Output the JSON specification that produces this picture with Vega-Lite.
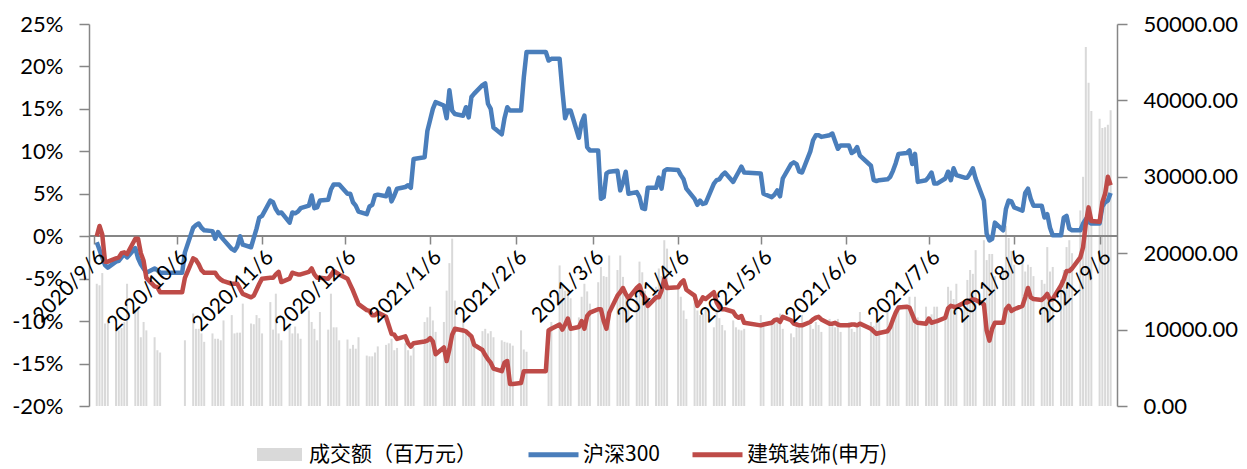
{
"$schema":"https://vega.github.io/schema/vega-lite/v6.json",
"width":1028,"height":382,
"autosize":{"type":"none"},
"padding":{"left":89,"top":24,"right":130,"bottom":63},
"background":"white",
"config":{"view":{"stroke":null},"font":"Lato"},
"data":{"values":[
{"d":"2020-09-07","v":16000,"h":-0.7,"j":0.0},
{"d":"2020-09-08","v":15800,"h":-1.6,"j":1.2},
{"d":"2020-09-09","v":17400,"h":-2.5,"j":0.2},
{"d":"2020-09-10","v":10800,"h":-3.4,"j":-3.0},
{"d":"2020-09-11","v":11200,"h":-3.7,"j":-3.0},
{"d":"2020-09-14","v":9900,"h":-3.0,"j":-2.6},
{"d":"2020-09-15","v":9900,"h":-2.9,"j":-2.5},
{"d":"2020-09-16","v":10200,"h":-2.5,"j":-2.0},
{"d":"2020-09-17","v":11000,"h":-2.1,"j":-1.9},
{"d":"2020-09-18","v":16000,"h":-2.5,"j":-2.1},
{"d":"2020-09-21","v":12500,"h":-1.4,"j":-0.3},
{"d":"2020-09-22","v":12900,"h":-2.6,"j":-0.3},
{"d":"2020-09-23","v":9000,"h":-3.3,"j":-2.0},
{"d":"2020-09-24","v":11000,"h":-3.8,"j":-2.9},
{"d":"2020-09-25","v":9900,"h":-4.3,"j":-4.9},
{"d":"2020-09-28","v":9000,"h":-3.8,"j":-5.9},
{"d":"2020-09-29","v":7300,"h":-4.0,"j":-6.0},
{"d":"2020-09-30","v":7000,"h":-4.3,"j":-6.6},
{"d":"2020-10-08","v":null,"h":-4.3,"j":-6.6},
{"d":"2020-10-09","v":8600,"h":-1.9,"j":-4.9},
{"d":"2020-10-12","v":12100,"h":1.0,"j":-2.6},
{"d":"2020-10-13","v":10100,"h":1.3,"j":-2.8},
{"d":"2020-10-14","v":10100,"h":1.5,"j":-3.3},
{"d":"2020-10-15","v":9500,"h":1.0,"j":-4.0},
{"d":"2020-10-16","v":8400,"h":0.7,"j":-4.3},
{"d":"2020-10-19","v":9500,"h":0.6,"j":-4.3},
{"d":"2020-10-20","v":8800,"h":-0.3,"j":-4.3},
{"d":"2020-10-21","v":8800,"h":0.5,"j":-4.8},
{"d":"2020-10-22","v":8600,"h":0.0,"j":-5.1},
{"d":"2020-10-23","v":11200,"h":-0.4,"j":-5.3},
{"d":"2020-10-26","v":11900,"h":-1.5,"j":-5.6},
{"d":"2020-10-27","v":9500,"h":-1.7,"j":-5.6},
{"d":"2020-10-28","v":9600,"h":-1.2,"j":-5.6},
{"d":"2020-10-29","v":9600,"h":0.0,"j":-6.2},
{"d":"2020-10-30","v":13400,"h":-1.0,"j":-6.8},
{"d":"2020-11-02","v":10800,"h":-1.3,"j":-7.2},
{"d":"2020-11-03","v":10700,"h":-0.2,"j":-7.0},
{"d":"2020-11-04","v":11900,"h":0.9,"j":-6.3},
{"d":"2020-11-05","v":11500,"h":2.2,"j":-5.6},
{"d":"2020-11-06","v":9500,"h":2.4,"j":-5.0},
{"d":"2020-11-09","v":13600,"h":4.2,"j":-4.9},
{"d":"2020-11-10","v":10000,"h":4.0,"j":-4.9},
{"d":"2020-11-11","v":14700,"h":3.2,"j":-4.5},
{"d":"2020-11-12","v":9500,"h":2.7,"j":-4.2},
{"d":"2020-11-13","v":8600,"h":2.8,"j":-5.4},
{"d":"2020-11-16","v":10800,"h":1.6,"j":-5.0},
{"d":"2020-11-17","v":9500,"h":2.8,"j":-4.3},
{"d":"2020-11-18","v":10400,"h":2.7,"j":-4.4},
{"d":"2020-11-19","v":9500,"h":2.9,"j":-4.5},
{"d":"2020-11-20","v":8800,"h":3.3,"j":-4.5},
{"d":"2020-11-23","v":12500,"h":3.6,"j":-4.2},
{"d":"2020-11-24","v":11000,"h":4.8,"j":-3.8},
{"d":"2020-11-25","v":10100,"h":3.3,"j":-4.5},
{"d":"2020-11-26","v":8600,"h":3.4,"j":-4.9},
{"d":"2020-11-27","v":12300,"h":4.2,"j":-4.9},
{"d":"2020-11-30","v":10000,"h":4.3,"j":-5.0},
{"d":"2020-12-01","v":14700,"h":5.5,"j":-4.6},
{"d":"2020-12-02","v":10300,"h":6.1,"j":-4.1},
{"d":"2020-12-03","v":10300,"h":6.1,"j":-4.3},
{"d":"2020-12-04","v":8600,"h":6.1,"j":-4.5},
{"d":"2020-12-07","v":8700,"h":5.0,"j":-5.0},
{"d":"2020-12-08","v":7500,"h":5.0,"j":-5.7},
{"d":"2020-12-09","v":8000,"h":4.0,"j":-6.4},
{"d":"2020-12-10","v":7500,"h":3.6,"j":-7.2},
{"d":"2020-12-11","v":9000,"h":2.9,"j":-8.0},
{"d":"2020-12-14","v":6600,"h":2.6,"j":-8.7},
{"d":"2020-12-15","v":6500,"h":3.5,"j":-8.8},
{"d":"2020-12-16","v":6500,"h":3.7,"j":-9.3},
{"d":"2020-12-17","v":7000,"h":4.8,"j":-9.3},
{"d":"2020-12-18","v":7800,"h":4.9,"j":-9.0},
{"d":"2020-12-21","v":8000,"h":4.7,"j":-9.5},
{"d":"2020-12-22","v":8200,"h":5.6,"j":-10.5},
{"d":"2020-12-23","v":8800,"h":4.1,"j":-11.5},
{"d":"2020-12-24","v":7300,"h":4.8,"j":-11.6},
{"d":"2020-12-25","v":7600,"h":5.6,"j":-12.1},
{"d":"2020-12-28","v":8200,"h":5.8,"j":-11.8},
{"d":"2020-12-29","v":7300,"h":6.0,"j":-12.6},
{"d":"2020-12-30","v":6600,"h":5.7,"j":-13.0},
{"d":"2020-12-31","v":7700,"h":9.1,"j":-12.6},
{"d":"2021-01-04","v":11000,"h":9.3,"j":-12.4},
{"d":"2021-01-05","v":11600,"h":12.4,"j":-12.3},
{"d":"2021-01-06","v":13000,"h":13.7,"j":-12.0},
{"d":"2021-01-07","v":11200,"h":15.0,"j":-12.4},
{"d":"2021-01-08","v":9700,"h":15.8,"j":-13.9},
{"d":"2021-01-11","v":11000,"h":15.4,"j":-13.1},
{"d":"2021-01-12","v":15100,"h":13.9,"j":-14.7},
{"d":"2021-01-13","v":18700,"h":17.2,"j":-13.3},
{"d":"2021-01-14","v":21900,"h":14.8,"j":-11.6},
{"d":"2021-01-15","v":13800,"h":14.4,"j":-10.9},
{"d":"2021-01-18","v":11600,"h":14.2,"j":-11.1},
{"d":"2021-01-19","v":9600,"h":15.2,"j":-11.2},
{"d":"2021-01-20","v":9700,"h":14.0,"j":-11.5},
{"d":"2021-01-21","v":9000,"h":16.4,"j":-11.8},
{"d":"2021-01-22","v":8800,"h":16.8,"j":-12.8},
{"d":"2021-01-25","v":9800,"h":17.8,"j":-13.4},
{"d":"2021-01-26","v":10100,"h":18.0,"j":-14.0},
{"d":"2021-01-27","v":9500,"h":15.6,"j":-14.5},
{"d":"2021-01-28","v":9800,"h":15.0,"j":-14.9},
{"d":"2021-01-29","v":9000,"h":12.8,"j":-15.6},
{"d":"2021-02-01","v":8600,"h":12.0,"j":-15.9},
{"d":"2021-02-02","v":8400,"h":13.9,"j":-14.9},
{"d":"2021-02-03","v":8300,"h":15.2,"j":-14.7},
{"d":"2021-02-04","v":8200,"h":14.8,"j":-17.4},
{"d":"2021-02-05","v":7900,"h":14.8,"j":-17.4},
{"d":"2021-02-08","v":9900,"h":14.8,"j":-17.3},
{"d":"2021-02-09","v":7400,"h":18.7,"j":-15.9},
{"d":"2021-02-10","v":7100,"h":21.7,"j":-15.9},
{"d":"2021-02-17","v":null,"h":21.7,"j":-15.9},
{"d":"2021-02-18","v":7700,"h":20.7,"j":-11.1},
{"d":"2021-02-19","v":11000,"h":20.9,"j":-10.9},
{"d":"2021-02-22","v":18400,"h":20.9,"j":-10.4},
{"d":"2021-02-23","v":16000,"h":17.2,"j":-11.0},
{"d":"2021-02-24","v":15100,"h":13.9,"j":-10.4},
{"d":"2021-02-25","v":15000,"h":14.8,"j":-9.7},
{"d":"2021-02-26","v":14100,"h":14.8,"j":-10.9},
{"d":"2021-03-01","v":11600,"h":11.6,"j":-10.7},
{"d":"2021-03-02","v":14300,"h":13.4,"j":-10.0},
{"d":"2021-03-03","v":16000,"h":14.2,"j":-10.9},
{"d":"2021-03-04","v":15000,"h":10.5,"j":-9.4},
{"d":"2021-03-05","v":13400,"h":10.1,"j":-9.0},
{"d":"2021-03-08","v":16200,"h":10.1,"j":-8.6},
{"d":"2021-03-09","v":18200,"h":4.4,"j":-8.6},
{"d":"2021-03-10","v":17000,"h":4.6,"j":-10.0},
{"d":"2021-03-11","v":16900,"h":7.4,"j":-10.9},
{"d":"2021-03-12","v":19700,"h":7.6,"j":-9.0},
{"d":"2021-03-15","v":17800,"h":7.7,"j":-7.0},
{"d":"2021-03-16","v":19700,"h":5.4,"j":-6.6},
{"d":"2021-03-17","v":16900,"h":6.3,"j":-6.1},
{"d":"2021-03-18","v":14500,"h":7.6,"j":-6.8},
{"d":"2021-03-19","v":13900,"h":5.0,"j":-7.3},
{"d":"2021-03-22","v":15400,"h":5.2,"j":-6.1},
{"d":"2021-03-23","v":18900,"h":4.6,"j":-5.8},
{"d":"2021-03-24","v":17500,"h":3.3,"j":-6.8},
{"d":"2021-03-25","v":15100,"h":3.2,"j":-7.2},
{"d":"2021-03-26","v":14300,"h":5.7,"j":-8.2},
{"d":"2021-03-29","v":15600,"h":5.7,"j":-7.2},
{"d":"2021-03-30","v":18000,"h":6.9,"j":-7.2},
{"d":"2021-03-31","v":17000,"h":5.6,"j":-6.4},
{"d":"2021-04-01","v":21700,"h":7.7,"j":-5.0},
{"d":"2021-04-02","v":20600,"h":7.9,"j":-6.1},
{"d":"2021-04-06","v":15600,"h":7.8,"j":-6.0},
{"d":"2021-04-07","v":14300,"h":7.2,"j":-5.5},
{"d":"2021-04-08","v":12500,"h":6.7,"j":-5.2},
{"d":"2021-04-09","v":11400,"h":5.6,"j":-6.3},
{"d":"2021-04-12","v":13600,"h":4.4,"j":-7.0},
{"d":"2021-04-13","v":12500,"h":3.7,"j":-8.2},
{"d":"2021-04-14","v":11900,"h":4.2,"j":-7.8},
{"d":"2021-04-15","v":12000,"h":3.8,"j":-7.2},
{"d":"2021-04-16","v":12700,"h":3.9,"j":-7.4},
{"d":"2021-04-19","v":10300,"h":6.2,"j":-6.6},
{"d":"2021-04-20","v":12700,"h":6.6,"j":-7.8},
{"d":"2021-04-21","v":11500,"h":6.7,"j":-8.4},
{"d":"2021-04-22","v":10600,"h":7.2,"j":-8.6},
{"d":"2021-04-23","v":9900,"h":7.5,"j":-8.6},
{"d":"2021-04-26","v":11200,"h":6.4,"j":-8.9},
{"d":"2021-04-27","v":10300,"h":7.0,"j":-9.4},
{"d":"2021-04-28","v":10000,"h":7.6,"j":-9.6},
{"d":"2021-04-29","v":9900,"h":8.2,"j":-9.4},
{"d":"2021-04-30","v":10100,"h":7.5,"j":-10.2},
{"d":"2021-05-06","v":11900,"h":7.4,"j":-10.5},
{"d":"2021-05-07","v":11000,"h":5.0,"j":-10.4},
{"d":"2021-05-10","v":11000,"h":4.6,"j":-10.2},
{"d":"2021-05-11","v":11200,"h":4.9,"j":-9.9},
{"d":"2021-05-12","v":11400,"h":5.4,"j":-9.8},
{"d":"2021-05-13","v":12100,"h":4.7,"j":-10.1},
{"d":"2021-05-14","v":10100,"h":6.8,"j":-9.5},
{"d":"2021-05-17","v":9500,"h":8.5,"j":-9.9},
{"d":"2021-05-18","v":9000,"h":8.7,"j":-10.3},
{"d":"2021-05-19","v":10300,"h":8.5,"j":-10.4},
{"d":"2021-05-20","v":10600,"h":7.6,"j":-10.5},
{"d":"2021-05-21","v":11900,"h":7.5,"j":-10.5},
{"d":"2021-05-24","v":10600,"h":10.0,"j":-10.1},
{"d":"2021-05-25","v":10100,"h":11.3,"j":-9.8},
{"d":"2021-05-26","v":11000,"h":11.9,"j":-9.6},
{"d":"2021-05-27","v":10600,"h":11.9,"j":-9.5},
{"d":"2021-05-28","v":9700,"h":11.7,"j":-9.8},
{"d":"2021-05-31","v":11400,"h":11.9,"j":-10.3},
{"d":"2021-06-01","v":10600,"h":12.1,"j":-10.3},
{"d":"2021-06-02","v":10300,"h":11.2,"j":-10.2},
{"d":"2021-06-03","v":11400,"h":10.3,"j":-10.4},
{"d":"2021-06-04","v":9700,"h":10.7,"j":-10.5},
{"d":"2021-06-07","v":11000,"h":10.7,"j":-10.5},
{"d":"2021-06-08","v":10100,"h":9.8,"j":-10.4},
{"d":"2021-06-09","v":9700,"h":10.0,"j":-10.4},
{"d":"2021-06-10","v":10300,"h":10.5,"j":-10.5},
{"d":"2021-06-11","v":12300,"h":9.5,"j":-10.3},
{"d":"2021-06-15","v":11000,"h":8.3,"j":-10.9},
{"d":"2021-06-16","v":10500,"h":6.6,"j":-11.2},
{"d":"2021-06-17","v":11000,"h":6.5,"j":-11.5},
{"d":"2021-06-18","v":11200,"h":6.6,"j":-11.4},
{"d":"2021-06-21","v":12700,"h":6.7,"j":-11.2},
{"d":"2021-06-22","v":10800,"h":7.0,"j":-10.7},
{"d":"2021-06-23","v":10800,"h":7.7,"j":-9.8},
{"d":"2021-06-24","v":12500,"h":8.6,"j":-9.0},
{"d":"2021-06-25","v":13200,"h":9.7,"j":-8.4},
{"d":"2021-06-28","v":13000,"h":9.8,"j":-8.3},
{"d":"2021-06-29","v":14300,"h":10.1,"j":-8.4},
{"d":"2021-06-30","v":11900,"h":8.5,"j":-9.2},
{"d":"2021-07-01","v":14300,"h":9.7,"j":-10.0},
{"d":"2021-07-02","v":11600,"h":6.4,"j":-10.2},
{"d":"2021-07-05","v":13000,"h":6.6,"j":-10.3},
{"d":"2021-07-06","v":11400,"h":7.0,"j":-9.7},
{"d":"2021-07-07","v":12000,"h":7.5,"j":-10.2},
{"d":"2021-07-08","v":13000,"h":6.2,"j":-10.1},
{"d":"2021-07-09","v":13000,"h":6.2,"j":-10.0},
{"d":"2021-07-12","v":11600,"h":6.8,"j":-9.6},
{"d":"2021-07-13","v":15600,"h":7.6,"j":-8.5},
{"d":"2021-07-14","v":15100,"h":6.6,"j":-8.2},
{"d":"2021-07-15","v":14000,"h":8.0,"j":-8.3},
{"d":"2021-07-16","v":16000,"h":7.2,"j":-8.3},
{"d":"2021-07-19","v":13000,"h":6.9,"j":-7.8},
{"d":"2021-07-20","v":16500,"h":6.9,"j":-7.8},
{"d":"2021-07-21","v":17800,"h":7.4,"j":-7.6},
{"d":"2021-07-22","v":17300,"h":8.0,"j":-7.4},
{"d":"2021-07-23","v":20400,"h":6.8,"j":-7.5},
{"d":"2021-07-26","v":21700,"h":4.2,"j":-8.0},
{"d":"2021-07-27","v":19100,"h":0.3,"j":-11.1},
{"d":"2021-07-28","v":19900,"h":-0.5,"j":-12.3},
{"d":"2021-07-29","v":19900,"h":-0.3,"j":-10.9},
{"d":"2021-07-30","v":17000,"h":1.6,"j":-10.2},
{"d":"2021-08-02","v":18000,"h":0.7,"j":-10.2},
{"d":"2021-08-03","v":23600,"h":3.2,"j":-8.6},
{"d":"2021-08-04","v":22000,"h":4.2,"j":-8.2},
{"d":"2021-08-05","v":20300,"h":4.1,"j":-8.8},
{"d":"2021-08-06","v":18500,"h":3.4,"j":-8.6},
{"d":"2021-08-09","v":19700,"h":3.0,"j":-8.2},
{"d":"2021-08-10","v":17600,"h":5.1,"j":-7.2},
{"d":"2021-08-11","v":18500,"h":5.6,"j":-6.1},
{"d":"2021-08-12","v":18200,"h":4.4,"j":-7.2},
{"d":"2021-08-13","v":17000,"h":3.6,"j":-7.4},
{"d":"2021-08-16","v":16500,"h":3.6,"j":-7.5},
{"d":"2021-08-17","v":16000,"h":2.2,"j":-7.2},
{"d":"2021-08-18","v":20800,"h":2.6,"j":-6.8},
{"d":"2021-08-19","v":17600,"h":1.0,"j":-7.5},
{"d":"2021-08-20","v":18200,"h":0.1,"j":-7.4},
{"d":"2021-08-23","v":16500,"h":0.1,"j":-5.8},
{"d":"2021-08-24","v":17800,"h":2.2,"j":-5.1},
{"d":"2021-08-25","v":20800,"h":2.4,"j":-4.1},
{"d":"2021-08-26","v":21700,"h":0.9,"j":-4.1},
{"d":"2021-08-27","v":20000,"h":0.7,"j":-3.8},
{"d":"2021-08-30","v":25600,"h":0.7,"j":-2.5},
{"d":"2021-08-31","v":30000,"h":1.5,"j":-1.3},
{"d":"2021-09-01","v":47000,"h":2.0,"j":1.5},
{"d":"2021-09-02","v":42300,"h":1.7,"j":3.4},
{"d":"2021-09-03","v":38600,"h":1.5,"j":1.8},
{"d":"2021-09-06","v":37600,"h":1.5,"j":1.7},
{"d":"2021-09-07","v":36400,"h":3.5,"j":4.0},
{"d":"2021-09-08","v":36500,"h":4.0,"j":5.0},
{"d":"2021-09-09","v":36800,"h":4.2,"j":7.0},
{"d":"2021-09-10","v":38700,"h":5.1,"j":6.0}
]},
"layer":[
{"mark":{"type":"bar","size":2},
 "encoding":{
  "x":{"field":"d","type":"temporal",
   "scale":{"type":"utc","domain":[{"year":2020,"month":9,"date":6,"utc":true},{"year":2021,"month":9,"date":10,"hours":12,"utc":true}]},
   "axis":{"title":null,"domain":false,"grid":false,"offset":-170,
    "values":[{"year":2020,"month":9,"date":6,"utc":true},{"year":2020,"month":10,"date":6,"utc":true},{"year":2020,"month":11,"date":6,"utc":true},{"year":2020,"month":12,"date":6,"utc":true},{"year":2021,"month":1,"date":6,"utc":true},{"year":2021,"month":2,"date":6,"utc":true},{"year":2021,"month":3,"date":6,"utc":true},{"year":2021,"month":4,"date":6,"utc":true},{"year":2021,"month":5,"date":6,"utc":true},{"year":2021,"month":6,"date":6,"utc":true},{"year":2021,"month":7,"date":6,"utc":true},{"year":2021,"month":8,"date":6,"utc":true},{"year":2021,"month":9,"date":6,"utc":true}],
    "labelExpr":"utcFormat(datum.value, '%Y/%-m/%-d')",
    "labelAngle":-45,"labelFontSize":21,"labelFont":"Lato","labelColor":"#000000",
    "tickColor":"#868686","tickWidth":1.5,"tickSize":8,"labelPadding":2,
    "labelOverlap":false,"labelBound":false,"labelFlush":false,"zindex":1}},
  "y":{"field":"v","type":"quantitative","scale":{"domain":[0,50000]},
   "axis":{"orient":"right","title":null,"grid":false,"values":[0,10000,20000,30000,40000,50000],"format":".2f",
    "labelFontSize":22,"labelFont":"Lato","labelColor":"#000000","domainColor":"#868686","domainWidth":1.5,
    "tickColor":"#868686","tickWidth":1.5,"tickSize":10,"labelPadding":16}},
  "fill":{"datum":"成交额（百万元）","scale":{"range":["#d9d9d9"]},
   "legend":{"orient":"none","legendX":168,"legendY":408,"title":null,"padding":0,
    "symbolType":"M-1,-0.29H1V0.29H-1Z","symbolSize":2025,"symbolStrokeWidth":0,
    "labelFontSize":21,"labelFont":"Noto Sans CJK SC","labelColor":"#000000","labelOffset":7,"labelLimit":400}}
 }},
{"layer":[
 {"mark":{"type":"rule","color":"#868686","strokeWidth":1.5},
  "encoding":{"y":{"datum":0,"type":"quantitative","scale":{"domain":[-20,25]},
   "axis":{"orient":"left","title":null,"grid":false,"values":[-20,-15,-10,-5,0,5,10,15,20,25],"labelExpr":"datum.value + '%'",
    "labelFontSize":22,"labelFont":"Lato","labelColor":"#000000","domainColor":"#868686","domainWidth":1.5,
    "tickColor":"#868686","tickWidth":1.5,"tickSize":10,"labelPadding":16}}}},
 {"mark":{"type":"line","strokeWidth":4.5,"strokeJoin":"round"},
  "encoding":{
   "x":{"field":"d","type":"temporal"},
   "y":{"field":"h","type":"quantitative"},
   "stroke":{"datum":"沪深300","scale":{"domain":["沪深300","建筑装饰(申万)"],"range":["#4a7ebb","#be4b48"]},
    "legend":{"orient":"none","legendX":437,"legendY":403,"direction":"horizontal","title":null,"padding":0,
     "symbolType":"stroke","symbolSize":2500,"symbolStrokeWidth":5,"columnPadding":22,
     "labelFontSize":21,"labelFont":"Noto Sans CJK SC","labelColor":"#000000","labelOffset":2,"labelLimit":400}}}},
 {"mark":{"type":"line","strokeWidth":4.5,"strokeJoin":"round"},
  "encoding":{
   "x":{"field":"d","type":"temporal"},
   "y":{"field":"j","type":"quantitative"},
   "stroke":{"datum":"建筑装饰(申万)"}}}
]}
],
"resolve":{"scale":{"y":"independent"}}
}
